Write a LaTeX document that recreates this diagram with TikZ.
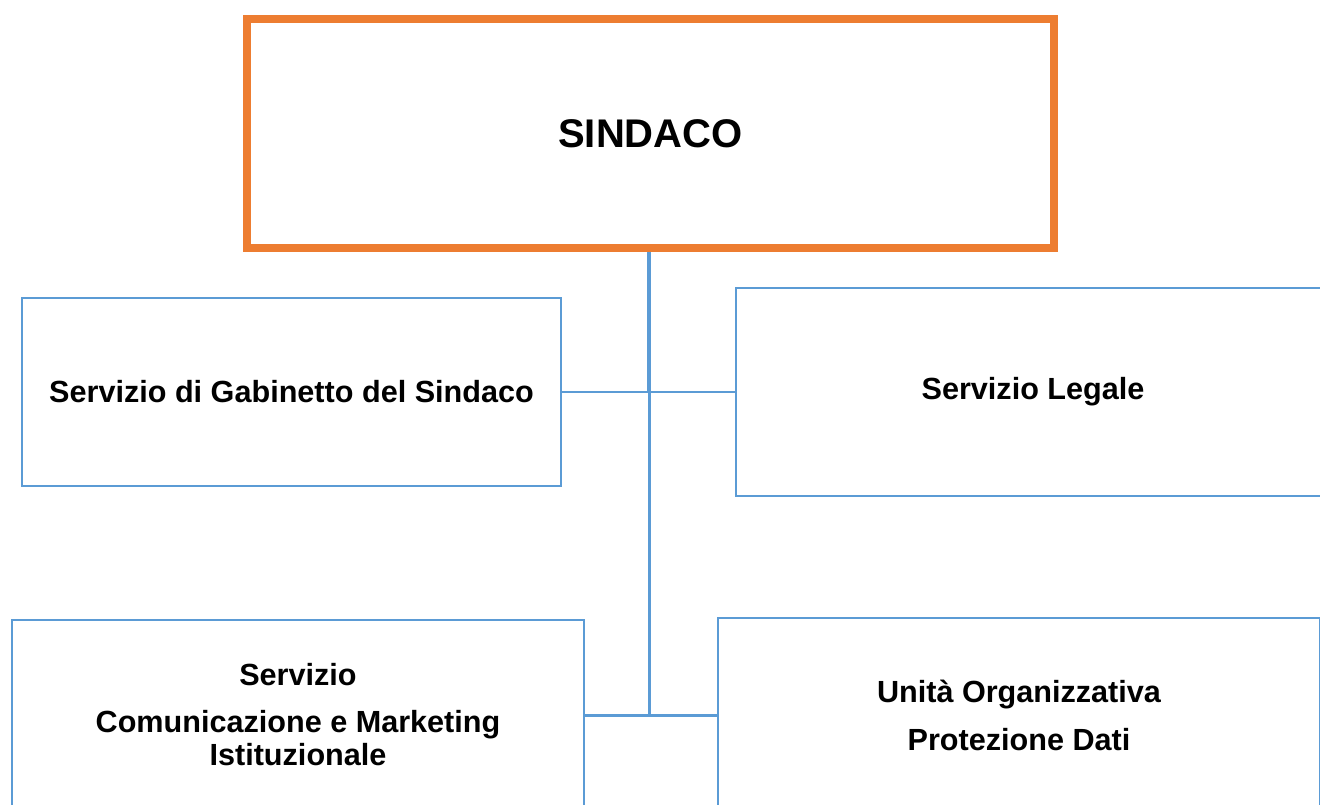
\documentclass[tikz,border=0pt]{standalone}
\usepackage{fontspec}
\setmainfont{Liberation Sans}
\definecolor{orangeline}{RGB}{237,125,49}
\definecolor{blueline}{RGB}{91,155,213}
\tikzset{
  capo/.style={draw=orangeline, line width=8pt, minimum width=807, minimum height=229,
    font=\fontsize{40}{48}\selectfont\bfseries},
  ufficio/.style={draw=blueline, line width=2pt, align=center,
    font=\fontsize{30.6}{33}\selectfont\bfseries},
  filo/.style={draw=blueline, line width=3pt}
}
\begin{document}
\begin{tikzpicture}[x=1pt,y=-1pt]
\useasboundingbox (0,0) rectangle (1320,805);
\clip (0,0) rectangle (1320,805);
\path (650.5,133.5) node[capo] (S) {SINDACO};
\path (291.5,392) node[ufficio, minimum width=539, minimum height=188] (G) {Servizio di Gabinetto del Sindaco};
\path (1033,392) node[ufficio, minimum width=594, minimum height=208] (L) {Servizio Legale};
\path (298,715) node[ufficio, minimum width=572, minimum height=190] (C) {Servizio\\[14pt]Comunicazione e Marketing\\Istituzionale};
\path (1019,715) node[ufficio, minimum width=602, minimum height=194] (P) {Unità Organizzativa\\[15pt]Protezione Dati};
\coordinate (nodo0) at ([xshift=-1.5pt]S.south);
\coordinate (nodo1) at (nodo0 |- G.east);
\coordinate (nodo2) at (nodo0 |- C.east);
\draw[filo, line width=4pt] (nodo0) -- (nodo1);
\draw[filo] (nodo1) -- (nodo2);
\draw[filo, line width=2.5pt] (G.east) -- (L.west);
\draw[filo] (C.east) -- (P.west);
\end{tikzpicture}
\end{document}
